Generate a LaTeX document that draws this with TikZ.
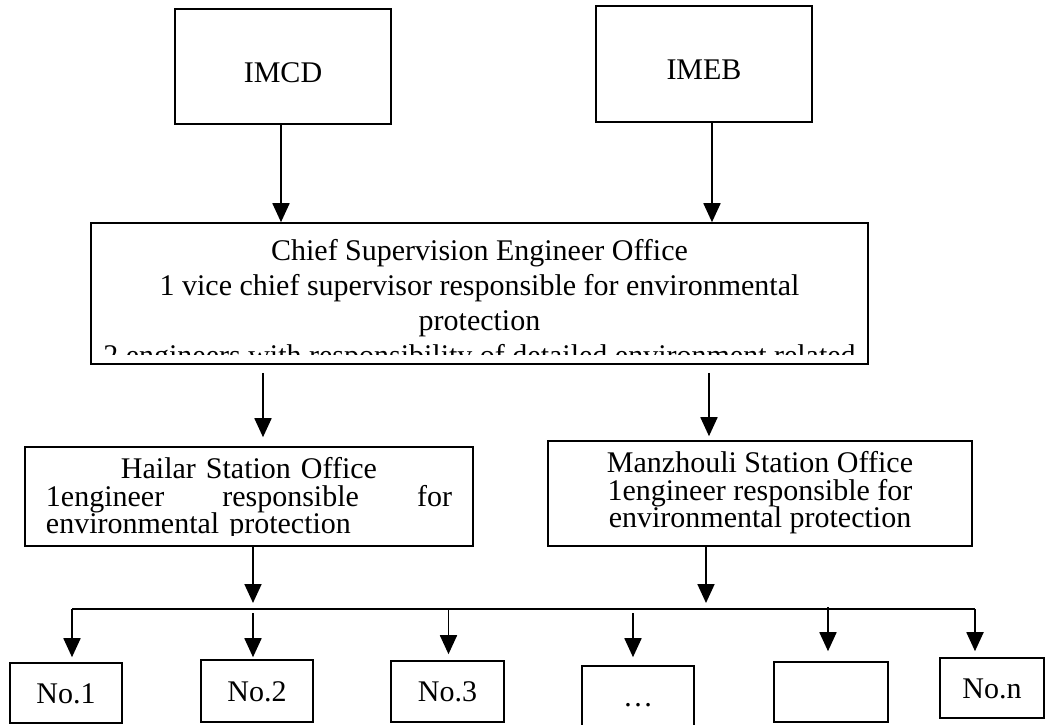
\documentclass[tikz,border=0pt]{standalone}
\usepackage{fontspec}
\setmainfont{Liberation Serif}
\usetikzlibrary{arrows.meta}

\begin{document}
\begin{tikzpicture}[x=.5pt, y=-.5pt, line width=.8pt,
        font=\fontsize{15pt}{17.5pt}\selectfont,
        kasten/.style={draw, inner sep=0pt},
        stationtxt/.style={anchor=north, inner sep=0pt, font=\fontsize{15pt}{13.75pt}\selectfont},
        pfeil/.style={-{Triangle[width=8.5pt, length=9.5pt]}, line width=.9pt}]
    \useasboundingbox (0,0) rectangle (1045,724);

    % Obere Kaesten.
    \node[kasten, minimum width=108pt, minimum height=57.5pt] (imcd) at (283,66.5) {};
    \node[kasten, minimum width=108pt, minimum height=58pt] (imeb) at (704,64) {};
    \node[anchor=base, yshift=-7.75pt] (imcdtxt) at (imcd.center) {IMCD};
    \node[anchor=base, yshift=-7.5pt] (imebtxt) at (imeb.center) {IMEB};

    % Hauptbuero.
    \node[kasten, minimum width=388.5pt, minimum height=70.5pt] (chief) at (479.5,293.5) {};
    \begin{scope}
        \clip (chief.north west) rectangle ([yshift=5pt]chief.south east);
        \node[align=center, anchor=north, inner sep=0pt] (chieftxt) at (479.5,238.5)
            {Chief Supervision Engineer Office\\
             1 vice chief supervisor responsible for environmental\\
             protection\\
             2 engineers with responsibility of detailed environment related};
    \end{scope}

    % Stationen.
    \node[kasten, minimum width=224pt, minimum height=49.5pt] (hailar) at (249,496.5) {};
    \node[kasten, minimum width=212pt, minimum height=52.5pt] (manz) at (760,493.5) {};
    \begin{scope}
        \clip (hailar.north west) rectangle ([yshift=5.5pt]hailar.south east);
        \node[stationtxt, text width=203pt, align=left] (hailartxt) at (249,457)
            {\makebox[203pt]{Hailar Station Office}\\
             1engineer\hfill responsible\hfill for\\
             environmental protection};
    \end{scope}
    \node[stationtxt, align=center] (manztxt) at (760,451)
        {Manzhouli Station Office\\ 1engineer responsible for\\ environmental protection};

    % Untere Kaesten.
    \foreach \n/\x/\y/\w/\h/\t in {n1/66/693/56/30/No.1, n2/257/691/56/31/No.2,
            n3/447.5/691.5/56.5/30.5/No.3, n4/638/696.5/56/30.5/\dots,
            n5/831/692/57/30/{}, n6/992/688/52/30/No.n}
    {
        \node[kasten, minimum width=\w pt, minimum height=\h pt, text height=10pt, text depth=0pt] (\n) at (\x,\y) {\t};
    }

    % Pfeile.
    \coordinate (a1) at ([xshift=-1pt]imcd.south);
    \coordinate (a2) at ([xshift=4pt]imeb.south);
    \draw[pfeil] (a1) -- (a1 |- chief.north);
    \draw[pfeil] (a2) -- (a2 |- chief.north);

    \coordinate (a3) at ([xshift=7pt]hailar.north);
    \coordinate (a4) at ([xshift=-25.5pt]manz.north);
    \draw[pfeil, shorten <=4pt, shorten >=4.5pt] (a3 |- chief.south) -- (a3);
    \draw[pfeil, shorten <=4pt, shorten >=2pt] (a4 |- chief.south) -- (a4);

    \coordinate (busl) at (72,609);
    \coordinate (busr) at (975,609);
    \draw[line width=1pt] (busl) -- (busr);

    \coordinate (a5) at ([xshift=2pt]hailar.south);
    \coordinate (a6) at ([xshift=-27pt]manz.south);
    \draw[pfeil, shorten >=3pt] (a5) -- (a5 |- busl);
    \draw[pfeil, shorten >=3pt] (a6) -- (a6 |- busl);

    \foreach \n/\x/\a/\b in {n1/72/0/2.5, n2/253/2/1, n3/448.5/0.5/3,
            n4/633/2/4, n5/828/-1/5, n6/975/0/3}
    {
        \coordinate (d\n) at (\x,609);
        \draw[pfeil, shorten <=\a pt, shorten >=\b pt] (d\n) -- (d\n |- \n.north);
    }
\end{tikzpicture}
\end{document}
